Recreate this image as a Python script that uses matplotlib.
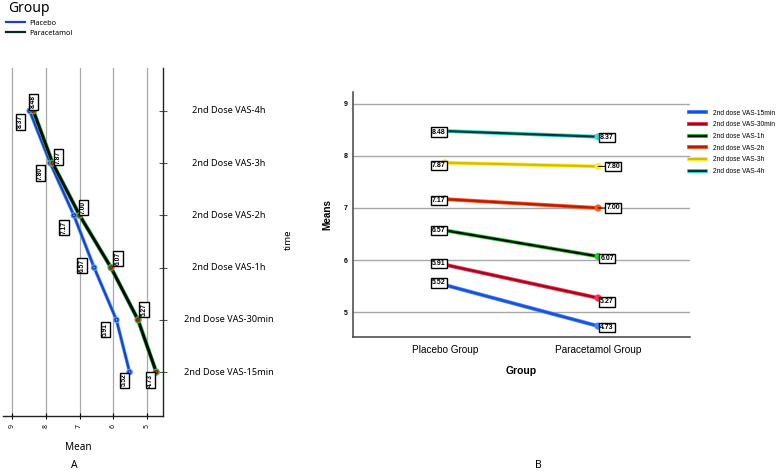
import matplotlib
matplotlib.use("Agg")
import matplotlib.pyplot as plt
import matplotlib.patheffects as pe
from matplotlib.lines import Line2D
import matplotlib.transforms as mtransforms

# ---------------- data ----------------
categories = ['2nd Dose VAS-15min', '2nd Dose VAS-30min', '2nd Dose VAS-1h',
              '2nd Dose VAS-2h', '2nd Dose VAS-3h', '2nd Dose VAS-4h']
legend_b_labels = ['2nd dose VAS-15min', '2nd dose VAS-30min', '2nd dose VAS-1h',
                   '2nd dose VAS-2h', '2nd dose VAS-3h', '2nd dose VAS-4h']
placebo = [5.52, 5.91, 6.57, 7.17, 7.87, 8.48]
paracetamol = [4.73, 5.27, 6.07, 7.00, 7.80, 8.37]
groups = ['Placebo Group', 'Paracetamol Group']
group_legend = ['Placebo', 'Paracetamol']
mean_ticks_a = [9, 8, 7, 6, 5]
mean_ticks_b = [5, 6, 7, 8, 9]

# ---------------- style ----------------
W, H = 779, 474
DPI = 100
PX = 72.0 / DPI  # points per pixel

def fx(x):
    return x / W

def fy(y):
    return 1 - y / H

FA = 'Noto Sans'
FB = 'Liberation Sans'

fig = plt.figure(figsize=(W / DPI, H / DPI), dpi=DPI)
fig.patch.set_facecolor('white')

# ================= Panel A =================
axA = fig.add_axes([fx(3), fy(416), fx(163) - fx(3), fy(68) - fy(416)])
axA.set_xlim(9.27, 4.53)
axA.set_ylim(-0.84, 5.82)
for s in ['left', 'top']:
    axA.spines[s].set_visible(False)
for s in ['right', 'bottom']:
    axA.spines[s].set_linewidth(1.0)
    axA.spines[s].set_color('#222222')
for v in mean_ticks_a:
    axA.axvline(v, color='#a8a8a8', lw=0.9, zorder=0)

ypos = list(range(len(categories)))
axA.yaxis.tick_right()
axA.set_yticks(ypos)
axA.set_yticklabels([])
axA.tick_params(axis='y', direction='inout', length=6, width=0.8, color='#555555')
axA.set_xticks(mean_ticks_a)
axA.set_xticklabels([str(t) for t in mean_ticks_a], rotation=90, fontsize=5,
                    fontweight='bold', family=FA)
axA.tick_params(axis='x', direction='inout', length=5, width=0.8, pad=3)

pla_color, pla_edge = '#1840c8', '#5aa0ff'
par_color, par_edge = '#050505', '#2fb84a'

axA.plot(placebo, ypos, color=pla_color, lw=1.5, marker='o', ms=2.2, mfc='#7ab0ff',
         mec=pla_color, zorder=3,
         path_effects=[pe.Stroke(linewidth=2.6, foreground=pla_edge), pe.Normal()])
axA.plot(paracetamol, ypos, color=par_color, lw=2.0, marker='o', ms=2.2, mfc='#e02020',
         mec='#b01010', zorder=4,
         path_effects=[pe.Stroke(linewidth=3.0, foreground=par_edge), pe.Normal()])

# label offsets (pixels, y down)
pla_off = [(-5, 8), (-11, 10), (-12, -2), (-10, 12), (8, -6), (4, -9)]
par_off = [(-6, 8), (6, -10), (7, -9), (4, -8), (-12, 10), (-13, 11)]
box = dict(boxstyle='square,pad=0.18', fc='white', ec='black', lw=1.0)
for vals, offs in [(placebo, pla_off), (paracetamol, par_off)]:
    for i, v in enumerate(vals):
        dx, dy = offs[i]
        axA.annotate(f'{v:.2f}', (v, ypos[i]), xytext=(dx * PX, -dy * PX),
                     textcoords='offset points', ha='center', va='center',
                     rotation=90, fontsize=4.8, fontweight='bold', family=FB,
                     bbox=box, zorder=6, annotation_clip=False)

# category labels to the right of panel A
trA = mtransforms.blended_transform_factory(fig.transFigure, axA.transData)
for i, c in enumerate(categories):
    axA.text(fx(229), ypos[i], c, transform=trA, ha='center', va='center',
             fontsize=6.6, family=FA, clip_on=False)

fig.text(fx(288), fy(240), 'time', rotation=90, ha='center', va='center',
         fontsize=7, fontweight='bold', family=FA)
fig.text(fx(78), fy(447), 'Mean', ha='center', va='center', fontsize=7.2,
         fontweight='semibold', family=FA)
fig.text(fx(74), fy(465), 'A', ha='center', va='center', fontsize=7.5,
         fontweight='semibold', family=FA)

# group legend (top-left)
fig.text(fx(8), fy(9), 'Group', ha='left', va='center', fontsize=10,
         fontweight='bold', family=FA)
hA = [Line2D([0], [0], color=pla_color, lw=1.6),
      Line2D([0], [0], color='#0d2a18', lw=1.6)]
fig.legend(hA, group_legend, loc='upper left', bbox_to_anchor=(fx(5), fy(19)),
           frameon=False, prop={'family': FA, 'size': 5.3}, handlelength=2.6,
           handletextpad=0.6, labelspacing=0.35, borderaxespad=0, borderpad=0.1)

# ================= Panel B =================
axB = fig.add_axes([fx(353), fy(337), fx(690) - fx(353), fy(92) - fy(337)])
axB.set_xlim(-0.6, 1.6)
axB.set_ylim(4.52, 9.23)
for s in ['right', 'top']:
    axB.spines[s].set_visible(False)
for s in ['left', 'bottom']:
    axB.spines[s].set_linewidth(1.1)
    axB.spines[s].set_color('#444444')
axB.set_yticks(mean_ticks_b)
axB.set_yticklabels([str(t) for t in mean_ticks_b], fontsize=5, fontweight='bold', family=FB)
axB.yaxis.grid(True, color='#a8a8a8', lw=1.0)
axB.set_axisbelow(True)
xg = [0, 1]
axB.set_xticks(xg)
axB.set_xticklabels(groups, fontsize=7.2, family=FB)
axB.tick_params(axis='both', length=0)
axB.tick_params(axis='x', pad=6)
axB.tick_params(axis='y', pad=4)
axB.set_ylabel('Means', fontsize=7.2, fontweight='bold', family=FB, labelpad=8)
axB.set_xlabel('Group', fontsize=7.5, fontweight='bold', family=FB, labelpad=8)

line_core = ['#1c4fd4', '#9a0a1e', '#060606', '#b41c06', '#d6bc00', '#0a3434']
line_edge = ['#3f86ff', '#ff3050', '#22d022', '#ff5a1a', '#ffee30', '#30e0d4']
handles_b = []
for i in range(len(categories)):
    ys = [placebo[i], paracetamol[i]]
    axB.plot(xg, ys, color=line_core[i], lw=1.6, marker='o', ms=2.4, mfc='none',
             mec=line_edge[i], zorder=3,
             path_effects=[pe.Stroke(linewidth=2.8, foreground=line_edge[i]), pe.Normal()])
    handles_b.append(Line2D([0], [0], color=line_core[i], lw=1.6,
                            path_effects=[pe.Stroke(linewidth=2.8, foreground=line_edge[i]),
                                          pe.Normal()]))

boxB = dict(boxstyle='square,pad=0.15', fc='white', ec='black', lw=1.0)
left_dy = [-2, -1, 0, 1, 3, 1]
right_dx = [9, 9, 9, 15, 15, 9]
right_dy = [1, 4, 2, 0, 0, 1]
for i in range(len(categories)):
    axB.annotate(f'{placebo[i]:.2f}', (0, placebo[i]), xytext=(-6 * PX, -left_dy[i] * PX),
                 textcoords='offset points', ha='center', va='center', fontsize=5,
                 fontweight='bold', family=FB, bbox=boxB, zorder=6)
    arrow = dict(arrowstyle='-', color='black', lw=0.7, shrinkA=0, shrinkB=0) \
        if right_dx[i] > 10 else None
    axB.annotate(f'{paracetamol[i]:.2f}', (1, paracetamol[i]),
                 xytext=(right_dx[i] * PX, -right_dy[i] * PX),
                 textcoords='offset points', ha='center', va='center', fontsize=5,
                 fontweight='bold', family=FB, bbox=boxB, zorder=6, arrowprops=arrow)

fig.legend(handles_b, legend_b_labels, loc='upper left', bbox_to_anchor=(fx(688), fy(109)),
           frameon=False, prop={'family': FB, 'size': 4.8}, handlelength=2.6,
           handletextpad=1.0, labelspacing=0.7, borderaxespad=0, borderpad=0.1)

fig.text(fx(538), fy(465), 'B', ha='center', va='center', fontsize=7.5,
         fontweight='semibold', family=FA)

fig.savefig('out.png', dpi=DPI, facecolor='white')
